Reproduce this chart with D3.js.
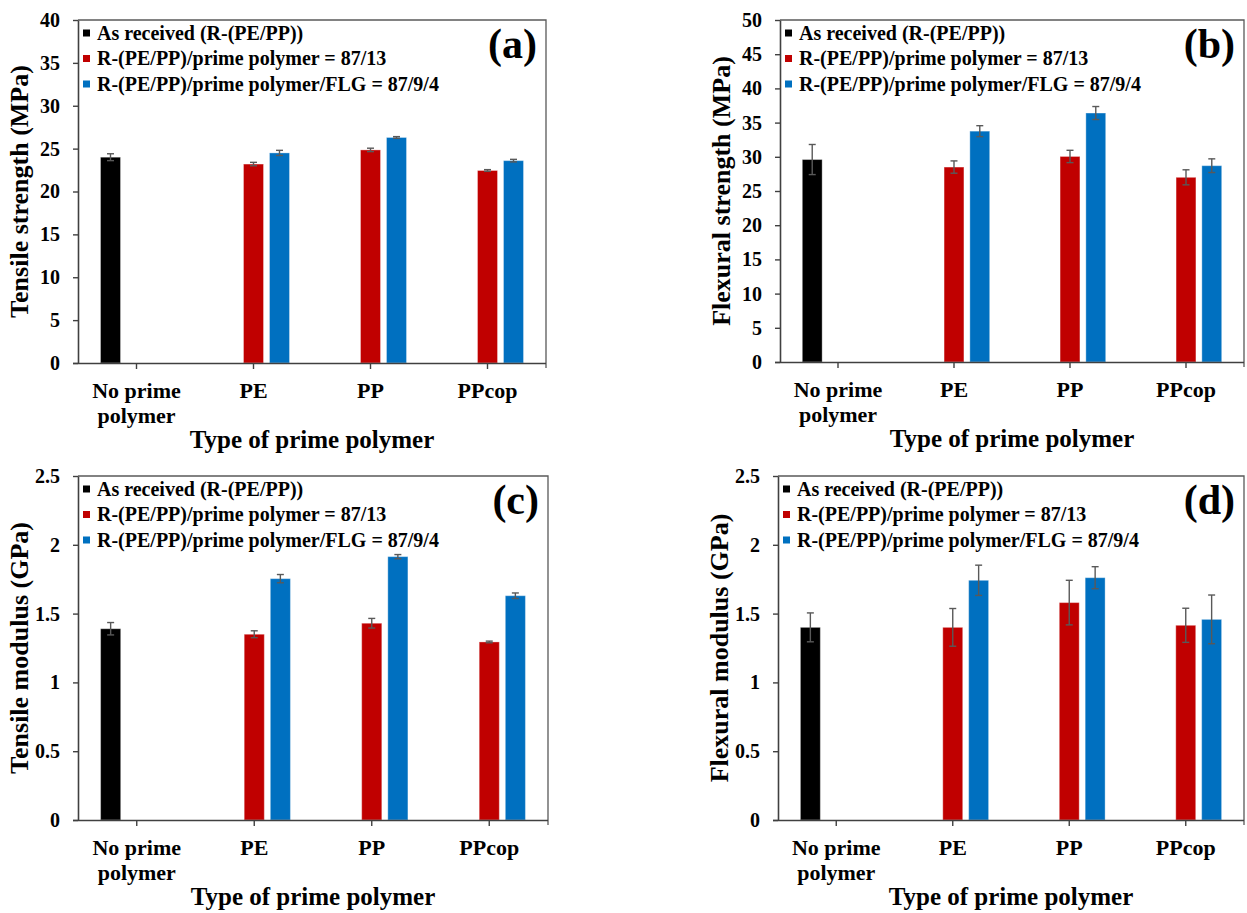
<html>
<head>
<script src="https://d3js.org/d3.v7.min.js"></script>
<style>
    body { margin: 0; background: #fff; }
    text { font-family: "Liberation Serif", "Times New Roman", serif; font-weight: bold; fill: #000; }
</style>
</head>
<body>
<svg></svg>
<script>
    const width = 1247;
    const height = 913;
    const serif = '"Liberation Serif", "Times New Roman", serif';

    const categories = ["No prime polymer", "PE", "PP", "PPcop"];
    const seriesNames = ["As received (R-(PE/PP))", "R-(PE/PP)/prime polymer = 87/13", "R-(PE/PP)/prime polymer/FLG = 87/9/4"];
    const seriesColors = ["#000000", "#C00000", "#0070C0"];

    // rows = series, columns = categories
    const tensileStrength = [[24.0, null, null, null], [null, 23.2, 24.85, 22.45], [null, 24.5, 26.3, 23.6]];
    const tensileStrengthErr = [[0.4, null, null, null], [null, 0.2, 0.2, 0.1], [null, 0.3, 0.1, 0.15]];

    const flexuralStrength = [[29.6, null, null, null], [null, 28.5, 30.05, 27.0], [null, 33.75, 36.4, 28.7]];
    const flexuralStrengthErr = [[2.2, null, null, null], [null, 0.9, 0.9, 1.1], [null, 0.8, 0.95, 1.0]];

    const tensileModulus = [[1.39, null, null, null], [null, 1.35, 1.43, 1.294], [null, 1.754, 1.914, 1.63]];
    const tensileModulusErr = [[0.045, null, null, null], [null, 0.025, 0.035, 0.006], [null, 0.03, 0.015, 0.02]];

    const flexuralModulus = [[1.40, null, null, null], [null, 1.40, 1.58, 1.415], [null, 1.742, 1.761, 1.458]];
    const flexuralModulusErr = [[0.105, null, null, null], [null, 0.137, 0.162, 0.124], [null, 0.11, 0.08, 0.177]];

    const ticksA = [0, 5, 10, 15, 20, 25, 30, 35, 40];
    const ticksB = [0, 5, 10, 15, 20, 25, 30, 35, 40, 45, 50];
    const ticksGPa = [0, 0.5, 1, 1.5, 2, 2.5];

    const panels = [
        {label: "(a)", left: 78, right: 546, top: 20, bottom: 363, ymax: 40, ticks: ticksA, title: "Tensile strength (MPa)", vals: tensileStrength, errs: tensileStrengthErr},
        {label: "(b)", left: 780, right: 1244, top: 20, bottom: 362, ymax: 50, ticks: ticksB, title: "Flexural strength (MPa)", vals: flexuralStrength, errs: flexuralStrengthErr},
        {label: "(c)", left: 78, right: 548, top: 476, bottom: 820, ymax: 2.5, ticks: ticksGPa, title: "Tensile modulus (GPa)", vals: tensileModulus, errs: tensileModulusErr},
        {label: "(d)", left: 778, right: 1244, top: 476, bottom: 820, ymax: 2.5, ticks: ticksGPa, title: "Flexural modulus (GPa)", vals: flexuralModulus, errs: flexuralModulusErr}
    ];

    const svg = d3.select("svg").attr("width", width).attr("height", height);

    panels.forEach(drawPanel);

    function drawPanel(p) {
        const g = svg.append("g").attr("font-family", serif).attr("font-weight", "bold");

        const x0 = d3.scaleBand().domain(categories)
            .range([p.left, p.right]).paddingInner(1 / 3).paddingOuter(1 / 6);
        const x1 = d3.scaleBand().domain(d3.range(seriesNames.length))
            .range([0, x0.bandwidth()]).paddingInner(0.23).paddingOuter(0.115);
        const y = d3.scaleLinear().domain([0, p.ymax]).range([p.bottom, p.top]);

        // plot border (top / right)
        g.append("path")
            .attr("d", `M${p.left},${p.top}H${p.right}V${p.bottom + 5}`)
            .attr("fill", "none").attr("stroke", "#595959").attr("stroke-width", 1.3);

        // bars
        const cells = [];
        p.vals.forEach((row, s) => row.forEach((v, c) => {
            if (v != null) cells.push({s: s, c: c, v: v, e: p.errs[s][c]});
        }));

        g.selectAll(".bar").data(cells).enter().append("rect")
            .attr("class", "bar")
            .attr("x", d => x0(categories[d.c]) + x1(d.s))
            .attr("width", x1.bandwidth())
            .attr("y", d => y(d.v))
            .attr("height", d => y(0) - y(d.v))
            .attr("fill", d => seriesColors[d.s])
            .attr("stroke", "#ffffff").attr("stroke-opacity", 0.35).attr("stroke-width", 1);

        // error bars
        const cap = 3.5;
        const eb = g.selectAll(".err").data(cells).enter().append("g")
            .attr("class", "err")
            .attr("stroke", "#595959").attr("stroke-width", 1.4);
        eb.append("line")
            .attr("x1", d => x0(categories[d.c]) + x1(d.s) + x1.bandwidth() / 2)
            .attr("x2", d => x0(categories[d.c]) + x1(d.s) + x1.bandwidth() / 2)
            .attr("y1", d => y(d.v - d.e)).attr("y2", d => y(d.v + d.e));
        [-1, 1].forEach(k => {
            eb.append("line")
                .attr("x1", d => x0(categories[d.c]) + x1(d.s) + x1.bandwidth() / 2 - cap)
                .attr("x2", d => x0(categories[d.c]) + x1(d.s) + x1.bandwidth() / 2 + cap)
                .attr("y1", d => y(d.v + k * d.e)).attr("y2", d => y(d.v + k * d.e));
        });

        // y axis
        const yAxis = g.append("g")
            .attr("transform", `translate(${p.left},0)`)
            .call(d3.axisLeft(y).tickValues(p.ticks).tickSize(5).tickSizeOuter(0).tickPadding(13).tickFormat(d => d));
        yAxis.attr("font-family", serif).attr("font-weight", "bold");
        yAxis.select(".domain").attr("stroke", "#404040").attr("stroke-width", 1.6);
        yAxis.selectAll(".tick line").attr("stroke", "#404040").attr("stroke-width", 1.4);
        yAxis.selectAll(".tick text").attr("font-size", 20).attr("fill", "#000");

        // x axis
        const xAxis = g.append("g")
            .attr("transform", `translate(0,${p.bottom})`)
            .call(d3.axisBottom(x0).tickSize(6).tickSizeOuter(0).tickFormat(""));
        xAxis.select(".domain").attr("stroke", "#404040").attr("stroke-width", 1.6)
            .attr("d", `M${p.left - 5},0.5H${p.right}`);
        xAxis.selectAll(".tick line").attr("stroke", "#404040").attr("stroke-width", 1.4);

        // category labels
        const catLines = {"No prime polymer": ["No prime", "polymer"]};
        categories.forEach(c => {
            const lines = catLines[c] || [c];
            const t = g.append("text")
                .attr("x", x0(c) + x0.bandwidth() / 2)
                .attr("y", p.bottom + 35)
                .attr("text-anchor", "middle")
                .attr("font-size", 22);
            lines.forEach((l, i) => {
                t.append("tspan").attr("x", x0(c) + x0.bandwidth() / 2)
                    .attr("dy", i === 0 ? 0 : 25).text(l);
            });
        });

        // axis titles
        g.append("text")
            .attr("x", (p.left + p.right) / 2)
            .attr("y", p.bottom + 85)
            .attr("text-anchor", "middle")
            .attr("font-size", 25)
            .text("Type of prime polymer");

        g.append("text")
            .attr("transform", `translate(${p.left - 50},${(p.top + p.bottom) / 2}) rotate(-90)`)
            .attr("text-anchor", "middle")
            .attr("font-size", 26)
            .text(p.title);

        // legend
        seriesNames.forEach((name, i) => {
            const cy = p.top + 13 + i * 25.5;
            g.append("rect")
                .attr("x", p.left + 5).attr("y", cy - 3.5)
                .attr("width", 7).attr("height", 7)
                .attr("fill", seriesColors[i]);
            g.append("text")
                .attr("x", p.left + 19).attr("y", cy + 6.5)
                .attr("font-size", 20)
                .text(name);
        });

        // panel label
        g.append("text")
            .attr("x", p.right - 9)
            .attr("y", p.top + 38)
            .attr("text-anchor", "end")
            .attr("font-size", 42)
            .text(p.label);
    }
</script>
</body>
</html>
